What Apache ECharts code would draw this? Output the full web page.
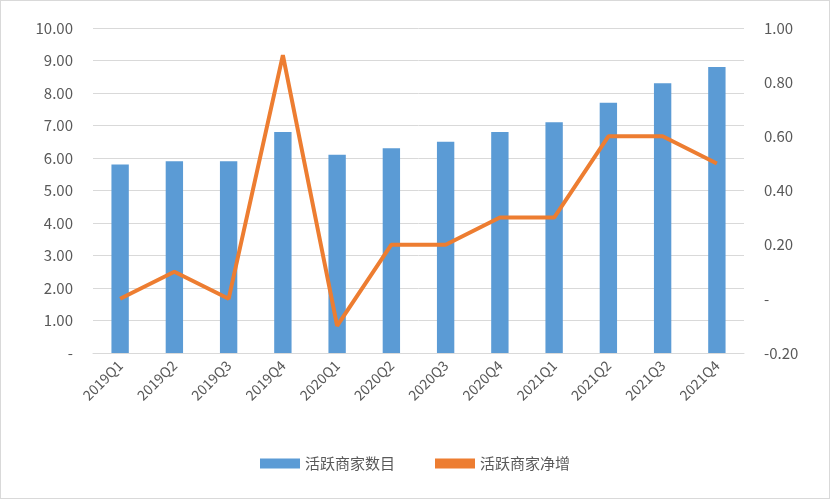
<!DOCTYPE html>
<html>
<head>
<meta charset="utf-8">
<script src="https://cdn.jsdelivr.net/npm/echarts@6/dist/echarts.min.js"></script>
<style>
html,body{margin:0;padding:0;background:#fff;}
#chart{width:828px;height:497px;border:1px solid #d9d9d9;}
</style>
</head>
<body>
<div id="chart"></div>
<script>
var categories = ['2019Q1','2019Q2','2019Q3','2019Q4','2020Q1','2020Q2','2020Q3','2020Q4','2021Q1','2021Q2','2021Q3','2021Q4'];
var merchants = [5.8, 5.9, 5.9, 6.8, 6.1, 6.3, 6.5, 6.8, 7.1, 7.7, 8.3, 8.8];
var netAdds = [0, 0.1, 0, 0.9, -0.1, 0.2, 0.2, 0.3, 0.3, 0.6, 0.6, 0.5];

var font = '"Microsoft YaHei","Noto Sans CJK SC",sans-serif';
var chart = echarts.init(document.getElementById('chart'));
var option = {
    textStyle: { fontFamily: font },
    grid: { left: 92, right: 85, top: 27, bottom: 145 },
    legend: {
        bottom: 22,
        left: 'center',
        itemGap: 40,
        itemWidth: 40,
        itemHeight: 10,
        textStyle: { fontSize: 15, color: '#595959', fontFamily: font },
        data: [
            { name: '活跃商家数目', icon: 'rect' },
            { name: '活跃商家净增', icon: 'rect' }
        ]
    },
    xAxis: {
        type: 'category',
        data: categories,
        axisTick: { show: false },
        axisLine: { lineStyle: { color: '#d9d9d9' } },
        axisLabel: { rotate: 45, fontSize: 14, color: '#595959', margin: 10 }
    },
    yAxis: [
        {
            type: 'value', min: 0, max: 10, interval: 1,
            axisLabel: {
                fontSize: 15, color: '#595959', margin: 20,
                formatter: function (v) { return v === 0 ? '-' : v.toFixed(2); }
            },
            splitLine: { lineStyle: { color: '#d9d9d9' } }
        },
        {
            type: 'value', min: -0.2, max: 1.0, interval: 0.2,
            axisLabel: {
                fontSize: 15, color: '#595959', margin: 20,
                formatter: function (v) { return Math.abs(v) < 1e-9 ? '-' : v.toFixed(2); }
            },
            splitLine: { show: false }
        }
    ],
    series: [
        {
            name: '活跃商家数目',
            type: 'bar',
            data: merchants,
            barWidth: '32%',
            itemStyle: { color: '#5B9BD5' }
        },
        {
            name: '活跃商家净增',
            type: 'line',
            yAxisIndex: 1,
            data: netAdds,
            symbol: 'none',
            lineStyle: { color: '#ED7D31', width: 4 },
            itemStyle: { color: '#ED7D31' }
        }
    ]
};
chart.setOption(option);
</script>
</body>
</html>
